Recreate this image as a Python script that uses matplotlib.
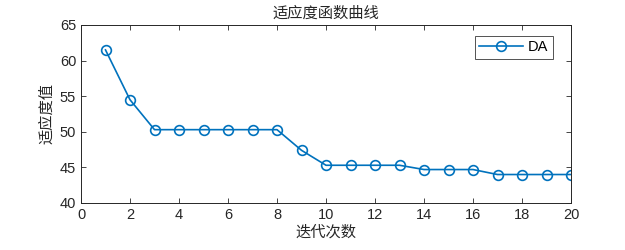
import matplotlib
matplotlib.use("Agg")
import matplotlib.pyplot as plt

iterations = list(range(1, 21))
fitness = [61.5, 54.5, 50.3, 50.3, 50.3, 50.3, 50.3, 50.3, 47.4, 45.3,
           45.3, 45.3, 45.3, 44.7, 44.7, 44.7, 44.0, 44.0, 44.0, 44.0]
xticks = list(range(0, 21, 2))
yticks = list(range(40, 66, 5))

plt.rcParams['font.family'] = ['Liberation Sans', 'Noto Sans CJK SC']
cjk = ['Noto Sans CJK SC', 'DejaVu Sans']
grey = '#262626'

fig = plt.figure(figsize=(6.25, 2.5), dpi=100)
ax = fig.add_axes([0.1296, 0.188, 0.784, 0.712])
ax.plot(iterations, fitness, color='#0072BD', linewidth=1.2, marker='o',
        markersize=7, markerfacecolor='none', markeredgewidth=1.2, label='DA')
ax.set_xlim(0, 20)
ax.set_ylim(40, 65)
ax.set_xticks(xticks)
ax.set_yticks(yticks)
ax.tick_params(direction='in', top=True, right=True, labelsize=10.5, length=3.5,
               width=0.6, labelcolor=grey, color=grey)
for s in ax.spines.values():
    s.set_linewidth(0.7)
    s.set_color(grey)
ax.set_title('适应度函数曲线', family=cjk, fontsize=11, pad=5, color=grey)
ax.set_xlabel('迭代次数', family=cjk, fontsize=11, labelpad=1, color=grey)
ax.set_ylabel('适应度值', family=cjk, fontsize=11, labelpad=3, color=grey)
leg = ax.legend(loc='upper right', fancybox=False, edgecolor=grey, fontsize=10.5,
                handlelength=3.0, handletextpad=0.35, borderpad=0.3, borderaxespad=0,
                bbox_to_anchor=(0.963, 0.938))
leg.get_frame().set_linewidth(0.7)
fig.savefig('out.png')
